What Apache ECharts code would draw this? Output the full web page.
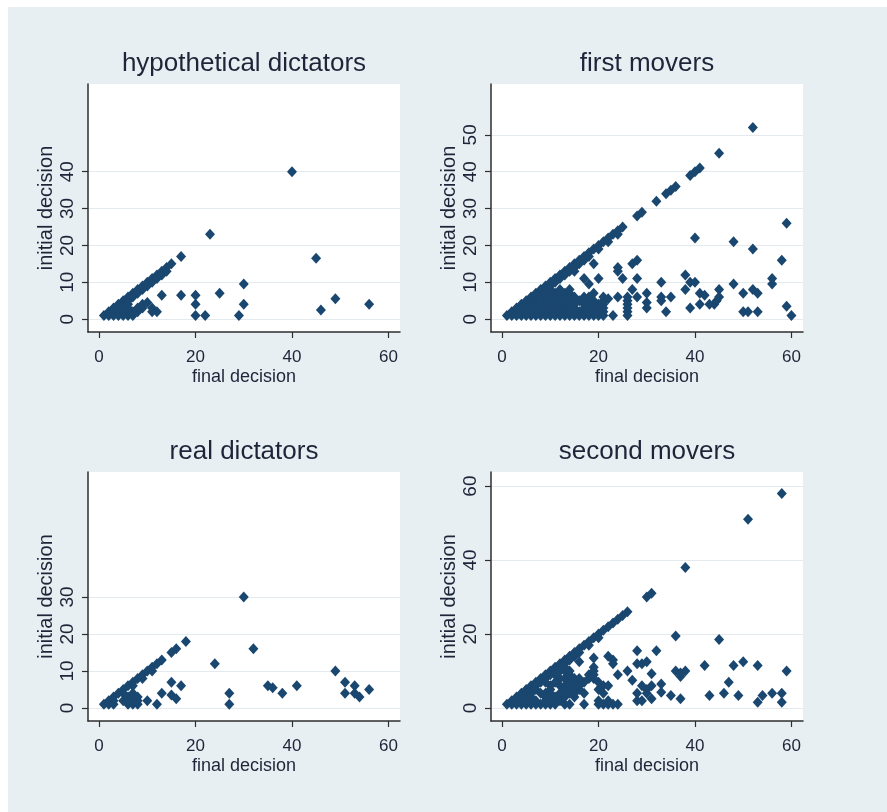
<!DOCTYPE html>
<html><head><meta charset="utf-8">
<script src="https://cdn.jsdelivr.net/npm/echarts@6/dist/echarts.min.js"></script>
<style>
html,body{margin:0;padding:0;background:#fff;}
#bg{position:absolute;left:8px;top:7px;width:879px;height:805px;background:#e8eff2;}
#chart{position:absolute;left:0;top:0;width:887px;height:812px;}
</style></head><body>
<div id="bg"></div><div id="chart"></div>
<script>
// ---- labels ----
const panelTitles = ['hypothetical dictators', 'first movers', 'real dictators', 'second movers'];
const xAxisTitle = 'final decision';
const yAxisTitle = 'initial decision';
const xTicks = [0, 20, 40, 60];
const yTicksHypo = [0, 10, 20, 30, 40];
const yTicksFirst = [0, 10, 20, 30, 40, 50];
const yTicksReal = [0, 10, 20, 30];
const yTicksSecond = [0, 20, 40, 60];

// ---- data: [final decision, initial decision] ----
const hypoDictators = [
  [1,1],[2,2],[3,3],[4,4],[5,5],[6,6],[7,7],[8,8],[9,9],[10,10],[11,11],[12,12],[13,13],[14,14],[15,15],[17,17],[23,23],[40,40],
  [2,1],[3,2],[4,3],[5,4],[6,5],[7,6],[8,7],[9,8],[10,9],[11,10],[12,11],[13,12],[14,13],
  [3,1],[4,1],[5,1],[6,1],[7,1],[4,2],[5,2],[6,2],[7,2],[8,2],[5,3],[6,3],[8,3],[9,3],[9,4],[10,4.5],[11,3],[11,2],[12,2],[6,4],
  [13,6.5],[17,6.5],[20,6.5],[20,4],[20,1],[22,1],[25,7],[29,1],[30,9.5],[30,4],[45,16.5],[46,2.5],[49,5.5],[56,4]
];

const firstMovers = [
  [1,1],[2,2],[3,3],[4,4],[5,5],[6,6],[7,7],[8,8],[9,9],[10,10],[11,11],[12,12],[13,13],[14,14],[15,15],[16,16],[17,17],[18,18],[19,19],[20,20],[21,21],[22,22],[23,23],[24,24],[25,25],
  [28,28],[29,29],[32,32],[34,34],[35,35],[36,36],[39,39],[40,40],[41,41],[45,45],[52,52],
  [2,1],[3,2],[4,3],[5,4],[6,5],[7,6],[8,7],[9,8],[10,9],[11,10],[12,11],[13,12],[14,13],[15,14],[16,15],[17,16],[18,17],[20,19],[22,21],[24,23],
  [3,1],[4,2],[5,3],[6,4],[7,5],[8,6],[9,7],[10,8],
  [4,1],[5,1],[6,1],[7,1],[8,1],[9,1],[10,1],[11,1],[12,1],[13,1],[14,1],[15,1],[16,1],[17,1],[18,1],[19,1],[20,1],[21,1],
  [5,2],[6,2],[7,2],[8,2],[9,2],[10,2],[11,2],[12,2],[13,2],[14,2],[16,2],[17,2],[18,2],[19,2],[20,2],[21,2],
  [6,3],[7,3],[8,3],[9,3],[10,3],[11,3],[12,3],[13,3],[14,3],[15,3],[17,3],[19,3],[20,3],[21,3],
  [7,4],[8,4],[9,4],[11,4],[12,4],[13,4],[14,4],[15,4],[17,4],[18,4],[20,4],[21,4],
  [8,5],[10,5],[11,5],[12,5],[13,5],[14,5],[16,5],[18,5],[19,5],[21,5],
  [9,6],[11,6],[12,6],[13,6],[14,6],[15,6],[17,6],[18,6],[21,6],
  [10,7],[11,7],[13,7],[14,7],[19,7],
  [12,8],[14,8],
  [15,13],[17,11],[18,9.5],[19,15],[20,11],
  [22,5.5],[23,1],[24,6],[24,14],[24,13],[25,11],[26,6],[26,5],[26,4],[26,3],[26,2],[26,1],[27,8],[27,15],[28,16],[28,11],[28,6],
  [30,7],[30,4.5],[30,3],[33,10],[33,6],[33,5],[34,2],[35,6],[38,12],[38,8],[39,10],[40,10],[39,3],[40,22],
  [41,7],[42,6.5],[41,4],[43,4],[44,4],[44.5,5],[45,6],[45,8],[48,21],[48,9.5],[50,7],[50,2],[51,2],[52,19],[52,8],[53,7],[53,2],
  [56,11],[56,9.5],[58,16],[59,26],[59,3.5],[60,1]
];

const realDictators = [
  [1,1],[2,2],[3,3],[4,4],[5,5],[6,6],[7,7],[8,8],[9,9],[10,10],[11,11],[12,12],[13,13],[15,15],[16,16],[18,18],[30,30],
  [3,2],[5,4],[7,6],[9,8],[11,10],
  [2,1],[3,1],[6,1],[7,1],[8,1],[5,2],[6,2],[7,2],[8,2],[6,3],[7,3],[8,3],[7,4],
  [10,2],[12,1],[13,4],[15,7],[17,6],[15,3.5],[16,2.5],
  [24,12],[27,4],[27,1],[32,16],[35,6],[36,5.5],[38,4],[41,6],[49,10],[51,7],[51,4],[53,6],[53,4],[54,3],[56,5]
];

const secondMovers = [
  [1,1],[2,2],[3,3],[4,4],[5,5],[6,6],[7,7],[8,8],[9,9],[10,10],[11,11],[12,12],[13,13],[14,14],[15,15],[16,16],[17,17],[18,18],[19,19],[20,20],[21,21],
  [22,22],[23,23],[24,24],[25,25],[26,26],[30,30],[31,31],[38,38],[51,51],[58,58],
  [2,1],[3,2],[4,3],[5,4],[6,5],[7,6],[8,7],[9,8],[10,9],[11,10],[12,11],[13,12],[14,13],[15,14],[16,15],[18,17],[20,19],
  [3,1],[4,2],[5,3],[6,4],[7,5],
  [4,1],[5,1],[6,1],[7,1],[8,1],[9,1],[10,1],[11,1],[13,1],[14,1],[17,1],[20,1],[21,1],[22,1],[23,1],[24,1],
  [5,2],[6,2],[7,2],[9,2],[10,2],[11,2],[12,2],[20,2],[22,2],
  [6,3],[9,3],[10,3],[11,3],[13,3],[15,3],
  [8,4],[9,4],[10,4],[12,4],[14,4],[15,4],[17,4],[21,4],
  [10,5],[13,5],[14,5],[15,5],[16,5],[20,5],
  [10,6],[12,6],[13,6],[15,6],[16,6],[21,6],[22,6],
  [9,7],[11,7],[14,7],[15,7],[17,7],[20,7],
  [12,8],[13,8],[15,8],[16,8],[18,8],[19,8],
  [11,9],[14,9],[18,9],[19,9],
  [12,10],[13,10],[14,10],[19,10],
  [13,11],[19,11],
  [16,12.5],[19,13.5],[22,14],[23,13],[23,12],[24,9],[26,10],[27,7.5],
  [28,15.5],[32,15.5],[36,19.5],[45,18.5],[42,11.5],[48,11.5],[50,12.5],[53,11.5],[59,10],
  [36,10],[37,8.5],[38,10],[37,9.5],[31,9.3],[28,12],[29,12],[30,12.5],[29,6],[30,5],[31,6],
  [28,4],[28,2],[29,2],[30,4],[31,2.5],[33,6.5],[33,4.3],[35,3.4],[37,2.5],[43,3.4],[46,4],[47,7],[49,3.4],
  [53,1.6],[54,3.4],[56,4],[58,4],[58,1.6]
];

// ---- layout / style ----
const REG = "'Liberation Sans', Arial, sans-serif";
const TXT = '#1d2538';
const AXIS = '#2e2e2e';
const MARK = '#1a476f';

const panels = [
  {title: panelTitles[0], data: hypoDictators, yTicks: yTicksHypo, left: 88, top: 84, height: 248},
  {title: panelTitles[1], data: firstMovers, yTicks: yTicksFirst, left: 491, top: 84, height: 248},
  {title: panelTitles[2], data: realDictators, yTicks: yTicksReal, left: 88, top: 472, height: 249},
  {title: panelTitles[3], data: secondMovers, yTicks: yTicksSecond, left: 491, top: 472, height: 249}
];
const W = 312;

const option = {
  animation: false,
  backgroundColor: 'transparent',
  title: panels.map(p => ({
    text: p.title, left: p.left + W / 2, top: p.top - 33, textAlign: 'center', padding: 0,
    textStyle: {fontFamily: REG, fontSize: 26, fontWeight: 'normal', color: TXT}
  })),
  grid: panels.map(p => ({
    left: p.left, top: p.top, width: W, height: p.height, show: true,
    backgroundColor: '#ffffff', borderWidth: 0, containLabel: false
  })),
  xAxis: panels.map((p, i) => ({
    gridIndex: i, type: 'value', min: -2.3, max: 62.4,
    name: xAxisTitle, nameLocation: 'middle', nameGap: 36,
    nameTextStyle: {fontFamily: REG, fontSize: 18, color: TXT},
    axisLine: {show: true, onZero: false, lineStyle: {color: AXIS, width: 1.5}},
    axisTick: {show: true, length: 6, customValues: xTicks, lineStyle: {color: AXIS, width: 1.2}},
    axisLabel: {customValues: xTicks, fontFamily: REG, fontSize: 17, color: TXT, margin: 17},
    splitLine: {show: false}
  })),
  yAxis: panels.map((p, i) => ({
    gridIndex: i, type: 'value', min: -3.5, max: 63.8,
    name: yAxisTitle, nameLocation: 'middle', nameGap: 32, nameRotate: 90,
    nameTextStyle: {fontFamily: REG, fontSize: 20, color: TXT},
    axisLine: {show: true, onZero: false, lineStyle: {color: AXIS, width: 1.5}},
    axisTick: {show: true, length: 6, customValues: p.yTicks, lineStyle: {color: AXIS, width: 1.2}},
    axisLabel: {customValues: p.yTicks, rotate: 90, fontFamily: REG, fontSize: 19, color: TXT, margin: 11},
    splitLine: {show: true, lineStyle: {color: '#e2eaee', width: 1.2}}
  })),
  series: panels.map((p, i) => ({
    type: 'scatter', xAxisIndex: i, yAxisIndex: i, data: p.data,
    symbol: 'diamond', symbolSize: [10, 11],
    itemStyle: {color: MARK, opacity: 1}
  }))
};

const chart = echarts.init(document.getElementById('chart'), null, {renderer: 'canvas'});
chart.setOption(option);
</script>
</body></html>
